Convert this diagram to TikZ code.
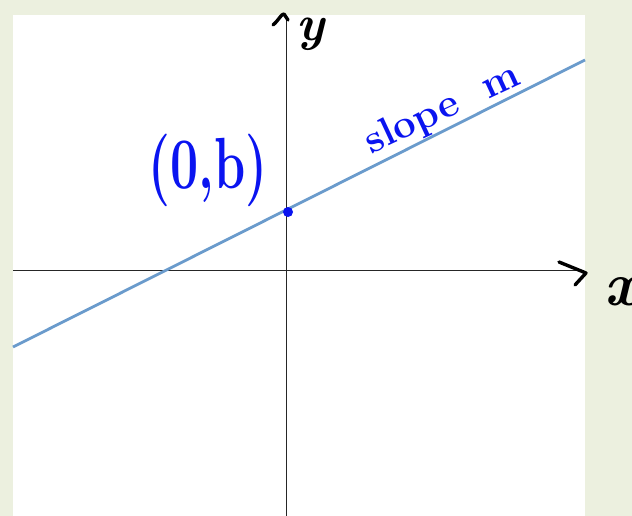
\documentclass[tikz,border=0pt]{standalone}
\usepackage{fontspec}
\definecolor{bgcol}{RGB}{236,240,223}
\definecolor{linecol}{RGB}{106,155,204}
\definecolor{inkblue}{RGB}{10,20,240}
\tikzset{
  axis/.style={draw=black!85, line width=1pt},
  ink/.style={draw=black, line width=3.4pt, line cap=round, line join=round},
  handtext/.style={inner sep=0pt},
}
\begin{document}
\begin{tikzpicture}[x=1pt,y=-1pt]
\useasboundingbox (0,0) rectangle (632,516);
\fill[bgcol] (0,0) rectangle (632,516);
\fill[white] (13,15) rectangle (585,516);
% axes
\draw[axis] (286,17) -- (286,516);
\draw[axis] (13,270) -- (580,270);
% hand-drawn arrow heads
\draw[ink] (273,25) .. controls (279,20) and (281,14) .. (284,14) -- (288,20);
\draw[ink] (559,262) -- (586,273) -- (575,285);
% line
\draw[linecol, line width=2.8pt] (13,347) -- (585,60);
% point
\fill[inkblue] (288,212) circle (5);
% labels
\node[handtext, anchor=center, font=\fontsize{50}{50}\selectfont\bfseries\itshape] (ylab) at (311,34) {y};
\node[handtext, anchor=west, font=\fontsize{62}{62}\selectfont\bfseries\itshape] (xlab) at (604,292) {x};
\node[handtext, text=inkblue, anchor=center, yscale=1.45, font=\fontsize{50}{50}\selectfont\bfseries] (pt) at (208,170) {(0,b)};
\node[handtext, text=inkblue, anchor=center, rotate=25, font=\fontsize{40}{40}\selectfont\bfseries] (slope) at (443,110) {slope\ \ m};
\end{tikzpicture}
\end{document}
